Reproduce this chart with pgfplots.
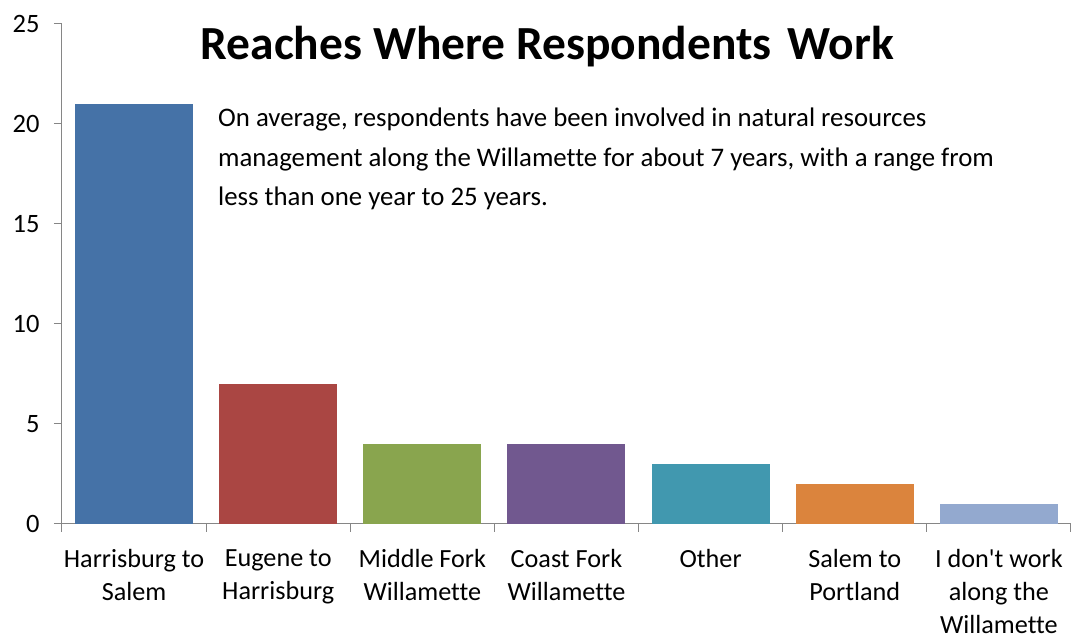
\documentclass[border=0pt]{standalone}
\usepackage{pgfplots}
\pgfplotsset{compat=1.18}
\usepackage{fontspec}
\setmainfont{Carlito}[Ligatures={NoCommon}]
\definecolor{c1}{HTML}{4572A7}
\definecolor{c2}{HTML}{AA4643}
\definecolor{c3}{HTML}{89A54E}
\definecolor{c4}{HTML}{71588F}
\definecolor{c5}{HTML}{4198AF}
\definecolor{c6}{HTML}{DB843D}
\definecolor{c7}{HTML}{93A9CF}
\definecolor{axgray}{HTML}{868686}
\begin{document}
\begin{tikzpicture}[x=1pt,y=1pt]
\path[use as bounding box] (-62,-115) rectangle (1010,524);
\begin{axis}[
  at={(0,0)}, anchor=south west,
  scale only axis, width=1009pt, height=500pt,
  xmin=-0.5, xmax=6.5, ymin=0, ymax=25,
  axis lines*=left,
  axis line style={draw=axgray, line width=1pt, -},
  ybar, bar shift=0pt, bar width=118pt,
  ytick={0,5,...,25},
  xtick={0,...,6},
  xticklabels={Harrisburg to\\Salem, Eugene to\\Harrisburg, Middle Fork\\Willamette, Coast Fork\\Willamette, Other, Salem to\\Portland, I don\textquotesingle t work\\along the\\Willamette},
  minor xtick={-0.5,0.5,...,6.5},
  tick align=outside,
  major tick length=8pt, minor tick length=8pt,
  xtick style={draw=none},
  minor x tick style={draw=axgray, line width=1pt},
  ytick style={draw=axgray, line width=1pt},
  /pgf/number format/assume math mode=true,
  yticklabel style={font=\fontsize{26.5}{32}\selectfont, xshift=-11pt},
  xticklabel style={font=\fontsize{26.2}{33}\selectfont, align=center, yshift=-14pt},
  clip=false,
]
\addplot[fill=c1, draw=none] coordinates {(0,21)};
\addplot[fill=c2, draw=none] coordinates {(1,7)};
\addplot[fill=c3, draw=none] coordinates {(2,4)};
\addplot[fill=c4, draw=none] coordinates {(3,4)};
\addplot[fill=c5, draw=none] coordinates {(4,3)};
\addplot[fill=c6, draw=none] coordinates {(5,2)};
\addplot[fill=c7, draw=none] coordinates {(6,1)};
\node[anchor=base, font=\fontsize{47.5}{56}\selectfont\bfseries, inner sep=0pt] at (rel axis cs:0.481,0.928) {Reaches Where Respondents\hspace{5pt} Work};
\node[anchor=base west, font=\fontsize{26.8}{31}\selectfont, inner sep=0pt] at (axis cs:0.582,19.85) {On average, respondents have been involved in natural resources};
\node[anchor=base west, font=\fontsize{26.8}{31}\selectfont, inner sep=0pt] at (axis cs:0.582,17.875) {management along the Willamette for about 7 years, with a range from};
\node[anchor=base west, font=\fontsize{26.8}{31}\selectfont, inner sep=0pt] at (axis cs:0.582,15.9) {less than one year to 25 years.};
\end{axis}
\end{tikzpicture}
\end{document}
